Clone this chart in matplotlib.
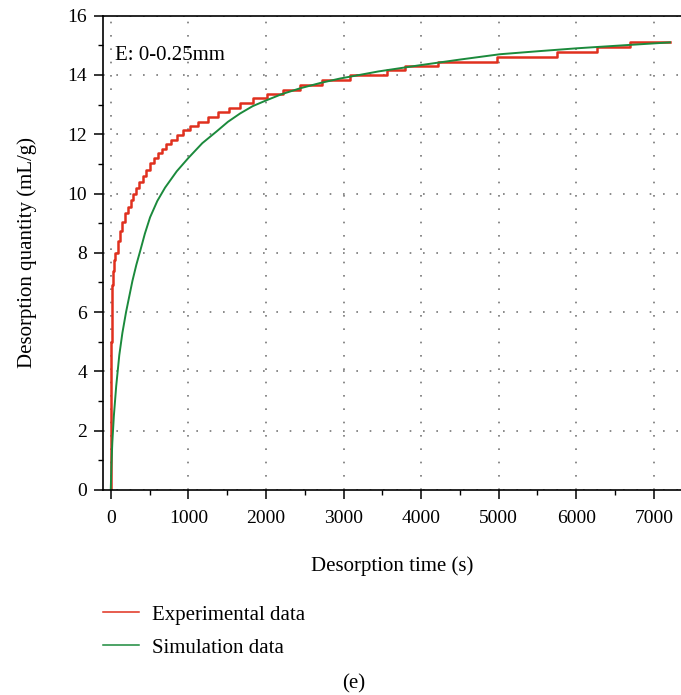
import numpy as np
import matplotlib.pyplot as plt
from matplotlib.ticker import MultipleLocator

plt.rcParams['font.family'] = ['Liberation Serif', 'DejaVu Serif']

# experimental data (stepped readings), time in s, quantity in mL/g
exp_t = [0, 3, 6, 10, 15, 25, 40, 60, 90, 120, 150, 184, 220, 255, 291, 330, 370, 410,
         460, 506, 560, 610, 657, 710, 780, 850, 930, 1022, 1130, 1258, 1387, 1520,
         1666, 1838, 2010, 2224, 2440, 2719, 3084, 3557, 3792, 4222, 4974, 5747, 6262,
         6692, 7208]
exp_q = [0.0, 3.0, 5.0, 6.2, 6.9, 7.4, 7.75, 7.98, 8.4, 8.75, 9.05, 9.33, 9.55, 9.78,
         10.0, 10.2, 10.4, 10.6, 10.8, 11.02, 11.2, 11.37, 11.52, 11.66, 11.82, 11.97,
         12.13, 12.28, 12.42, 12.57, 12.76, 12.9, 13.04, 13.21, 13.36, 13.51, 13.66,
         13.83, 14.0, 14.17, 14.3, 14.45, 14.61, 14.78, 14.95, 15.1, 15.1]

# simulation curve
sim_t = [0, 8, 20, 40, 70, 110, 150, 197, 240, 279, 330, 378, 440, 507, 600, 700, 850,
         1000, 1180, 1366, 1510, 1666, 1830, 2010, 2200, 2440, 2700, 2954, 3450, 3986,
         4500, 5016, 5500, 6005, 6600, 7208]
sim_q = [0.0, 0.8, 1.6, 2.5, 3.5, 4.55, 5.3, 6.0, 6.55, 7.05, 7.6, 8.05, 8.65, 9.2,
         9.75, 10.2, 10.75, 11.2, 11.7, 12.1, 12.42, 12.7, 12.95, 13.15, 13.35, 13.55,
         13.73, 13.88, 14.12, 14.33, 14.52, 14.7, 14.8, 14.9, 15.0, 15.1]

fig = plt.figure(figsize=(6.81, 6.95), dpi=100)
ax = fig.add_axes([103 / 681, 1 - 490 / 695, 1 - 103 / 681, (490 - 15.7) / 695])

ax.step(exp_t, exp_q, where='post', color='#e0301e', lw=1.8, label='Experimental data')
ax.plot(sim_t, sim_q, color='#1b8a3c', lw=1.4, label='Simulation data')

ax.set_xlim(-100, 7350)
ax.set_ylim(0, 16)
ax.xaxis.set_major_locator(MultipleLocator(1000))
ax.xaxis.set_minor_locator(MultipleLocator(500))
ax.yaxis.set_major_locator(MultipleLocator(2))
ax.yaxis.set_minor_locator(MultipleLocator(1))
ax.tick_params(which='major', direction='out', length=6.5, width=1.1, labelsize=14)
ax.tick_params(axis='x', which='major', pad=8)
ax.tick_params(axis='y', which='major', pad=5)
ax.tick_params(which='minor', direction='out', length=3.5, width=1.0)
ax.spines['right'].set_visible(False)
for s in ['left', 'bottom', 'top']:
    ax.spines[s].set_linewidth(1.2)
ax.grid(True, which='major', color='#777777', linestyle=(0, (1, 7)), lw=1.2)

ax.set_xlabel('Desorption time (s)', fontsize=15, labelpad=21)
ax.set_ylabel('Desorption quantity (mL/g)', fontsize=15, labelpad=22)
ax.text(0.021, 0.917, 'E: 0-0.25mm', transform=ax.transAxes, fontsize=15, va='center')

h, l = ax.get_legend_handles_labels()
leg = fig.legend(h, l, loc='upper left', bbox_to_anchor=(103 / 681, 1 - 605 / 695),
                 frameon=False, fontsize=15, handlelength=1.73, handletextpad=0.63,
                 labelspacing=0.65, borderpad=0, borderaxespad=0)
for ln in leg.get_lines():
    ln.set_linewidth(1.1)
fig.text(354 / 681, 1 - 684 / 695, '(e)', fontsize=15, ha='center', va='center')

fig.savefig('out.png', dpi=100)
